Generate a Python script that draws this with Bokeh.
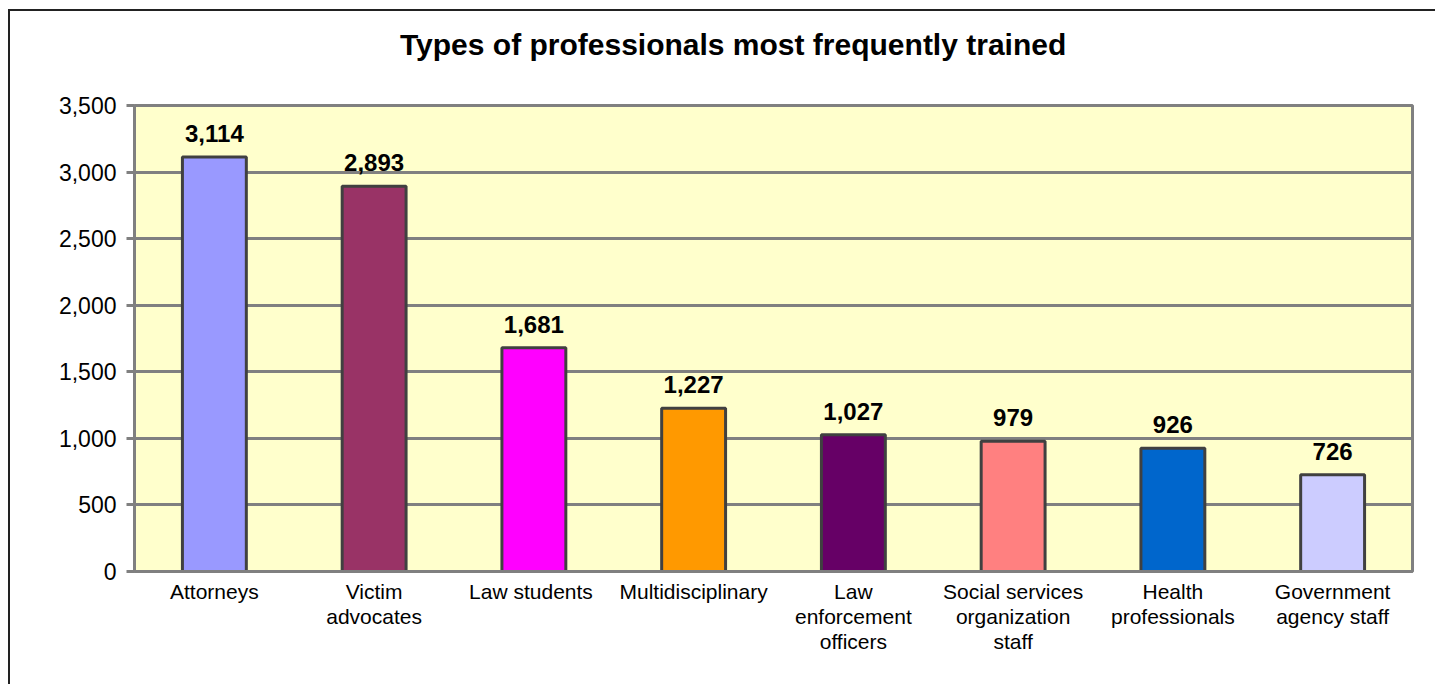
from bokeh.plotting import figure
from bokeh.models import ColumnDataSource, FactorRange, Range1d, NumeralTickFormatter, FixedTicker, LabelSet, Div
from bokeh.layouts import column
from bokeh.core.properties import value
from bokeh.embed import file_html
from bokeh.resources import INLINE

# ---- data ----
title_text = "Types of professionals most frequently trained"
labels = ["Attorneys", "Victim\nadvocates", "Law  students", "Multidisciplinary",
          "Law\nenforcement\nofficers", "Social services\norganization\nstaff",
          "Health\nprofessionals", "Government\nagency staff"]
values = [3114, 2893, 1681, 1227, 1027, 979, 926, 726]
colors = ["#9999FF", "#993366", "#FF00FF", "#FF9900", "#660066", "#FF8080", "#0066CC", "#CCCCFF"]
yticks = [0, 500, 1000, 1500, 2000, 2500, 3000, 3500]

FONT = "Liberation Sans"

src = ColumnDataSource(dict(cat=labels, val=values, color=colors,
                            txt=[f"{v:,}" for v in values]))

head = Div(text=('<div style="padding-left:400px; padding-top:27px; font-family:\'Liberation Sans\'; '
                 'font-size:30px; font-weight:bold; line-height:36px; color:#000000; white-space:nowrap">'
                 + title_text + '</div>'),
           width=1435, height=60, margin=0)

p = figure(x_range=FactorRange(factors=labels), y_range=Range1d(0, 3500),
           width=1435, height=624, output_backend="svg", toolbar_location=None,
           min_border_left=134, min_border_right=23, min_border_top=45, min_border_bottom=113)

p.background_fill_color = "#FFFFCC"
p.border_fill_color = None
p.outline_line_color = "#808080"
p.outline_line_width = 3

p.vbar(x="cat", top="val", width=0.4, source=src, fill_color="color",
       line_color="#404040", line_width=3)

lbl = LabelSet(x="cat", y="val", text="txt", source=src, text_align="center",
               text_baseline="bottom", y_offset=15, text_font=value(FONT),
               text_font_size=value("24px"), text_font_style="bold", text_color="#000000")
p.add_layout(lbl)

p.xgrid.grid_line_color = None
p.ygrid.grid_line_color = "#808080"
p.ygrid.grid_line_width = 3
p.ygrid.ticker = FixedTicker(ticks=yticks)

p.yaxis.ticker = FixedTicker(ticks=yticks)
p.yaxis.formatter = NumeralTickFormatter(format="0,0")
p.yaxis.axis_line_color = "#808080"
p.yaxis.axis_line_width = 3
p.yaxis.major_tick_line_color = "#808080"
p.yaxis.major_tick_line_width = 3
p.yaxis.major_tick_out = 8
p.yaxis.major_tick_in = 0
p.yaxis.minor_tick_line_color = None
p.yaxis.major_label_standoff = 10
p.yaxis.major_label_text_font = FONT
p.yaxis.major_label_text_font_size = "23px"
p.yaxis.major_label_text_color = "#000000"

p.xaxis.axis_line_color = "#808080"
p.xaxis.axis_line_width = 3
p.xaxis.major_tick_line_color = None
p.xaxis.minor_tick_line_color = None
p.xaxis.major_label_standoff = 2
p.xaxis.major_label_text_font = FONT
p.xaxis.major_label_text_font_size = "21px"
p.xaxis.major_label_text_color = "#000000"
p.xaxis.major_label_text_line_height = 1.1

page = column(head, p, spacing=0)
page.styles = {"box-shadow": "inset 8px 9px 0 0 #ffffff, inset 10px 11px 0 0 #222222",
               "background-color": "#ffffff"}

open("out.html", "w").write(file_html(page, INLINE))
